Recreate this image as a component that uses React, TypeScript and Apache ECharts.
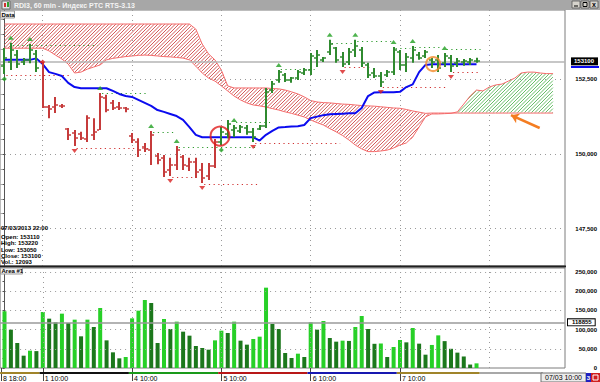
import React, { useEffect, useRef } from "react";
import * as echarts from "echarts";

// ---------- data ----------
const opens = [
  152940, 153080, 153310, 153080, 153150, 153350, 153080, 151570, 151570, 151620,
  150840, 150700, 150670, 150500, 150640, 150800, 151870, 151710, 151570, 151540,
  150600, 150400, 150230, 150130, 149930, 149870, 149460, 149630, 149900, 149600,
  149730, 149460, 149260, 149600, 150400, 150670, 150800, 150770, 150870, 150740,
  150840, 150940, 152140, 152480, 152640, 152480, 152540, 152710, 152810, 153210,
  153150, 153410, 153550, 153250, 153080, 153480, 153480, 152980, 152710, 152610,
  152640, 152740, 153410, 152980, 153210, 153310, 153280, 153150, 153150, 153050,
  153210, 153050, 153080, 153080, 153110,
];
const highs = [
  153550, 153720, 153480, 153210, 153680, 153480, 153080, 151640, 151910, 151670,
  150870, 150800, 150740, 151300, 151200, 152040, 151980, 151810, 151740, 151570,
  150700, 150530, 150370, 150770, 150030, 149970, 149870, 150270, 149970, 149870,
  149870, 149700, 149700, 150500, 150900, 151140, 150970, 150970, 150970, 150870,
  150970, 152210, 152440, 152810, 152710, 152580, 152810, 152880, 153380, 153480,
  153250, 153820, 153580, 153410, 153550, 153820, 153580, 153050, 152880, 152740,
  152810, 153580, 153480, 153380, 153610, 153410, 153480, 153210, 153310, 153380,
  153310, 153210, 153180, 153210, 153220,
];
const lows = [
  152680, 152810, 152880, 152980, 153040, 152740, 151540, 151200, 151370, 151540,
  150470, 150270, 150470, 150400, 150470, 150800, 151400, 151470, 151470, 151400,
  150370, 149900, 150070, 149630, 149660, 149230, 149260, 149460, 149460, 149430,
  149200, 149030, 149130, 149530, 150300, 150530, 150570, 150700, 150640, 150400,
  150800, 150870, 152040, 152380, 152410, 152380, 152480, 152640, 152640, 152910,
  153080, 153310, 153050, 152910, 152980, 153250, 152910, 152540, 152540, 152240,
  152580, 152640, 152810, 152740, 153050, 153150, 153210, 152880, 152740, 152910,
  152740, 152910, 152950, 152980, 153050,
];
const closes = [
  153210, 153480, 153010, 153150, 153480, 152880, 151570, 151500, 151640, 151600,
  150640, 150530, 150530, 151200, 150740, 151910, 151470, 151540, 151540, 151510,
  150470, 150130, 150170, 150640, 149800, 149400, 149630, 150130, 149630, 149730,
  149400, 149200, 149600, 150400, 150740, 151000, 150870, 150900, 150740, 150570,
  150940, 152080, 152340, 152740, 152480, 152540, 152740, 152810, 153280, 153310,
  153210, 153680, 153150, 153010, 153410, 153620, 153050, 152640, 152610, 152410,
  152740, 153480, 152980, 153250, 153480, 153210, 153410, 153080, 152880, 153280,
  152940, 153110, 153110, 153150, 153100,
];
const volumes = [
  147600, 99800, 65100, 32100, 45100, 44000, 145800, 128500, 118900, 141500,
  117200, 125900, 82500, 125900, 106800, 156200, 72000, 40800, 25200, 28600,
  129300, 149300, 177100, 169300, 65100, 127600, 101600, 120700, 94600, 84200,
  57300, 52100, 47700, 72000, 97200, 91100, 120700, 71200, 60800, 75500,
  81600, 209200, 114600, 101600, 39100, 26000, 37300, 28600, 118900, 99800,
  122400, 78100, 68600, 71200, 70500, 106800, 135400, 101600, 63000, 63800,
  28600, 54700, 72900, 66800, 104200, 63400, 34700, 60000, 85000, 70000,
  50000, 40000, 30000, 9000, 12093,
];
const kijun = [
  153150, 153150, 153150, 153150, 153150, 153200, 153010, 152740, 152680, 152610,
  152380, 152240, 152200, 152200, 152200, 152200, 152200, 152110, 152010, 151940,
  151910, 151810, 151710, 151610, 151470, 151410, 151340, 151270, 151140, 150900,
  150640, 150560, 150560, 150560, 150560, 150560, 150560, 150560, 150560, 150560,
  150450, 150640, 150770, 150890, 150900, 150920, 150930, 150970, 151200, 151250,
  151300, 151330, 151340, 151350, 151360, 151360, 151540, 151940, 152060, 152070,
  152070, 152070, 152080, 152240, 152330, 152740, 152980, 153000, 153000, 153000,
  153000, 153000, 153000, 153000, 153000,
];
const senkouA = [
  153540, 153540, 153540, 153540, 153540, 153540, 153540, 153450, 153310, 153180,
  153010, 152710, 152740, 152840, 152910, 152980, 153150, 153200, 153230, 153260,
  153280, 153300, 153310, 153300, 153280, 153260, 153250, 153230, 153210, 153150,
  152940, 152710, 152540, 152440, 152280, 152110, 151940, 151810, 151710, 151640,
  151610, 151570, 151520, 151470, 151410, 151360, 151300, 151240, 151140, 151050,
  150970, 150850, 150740, 150620, 150470, 150300, 150170, 150080, 150080, 150100,
  150130, 150200, 150300, 150370, 150570, 150900, 151240, 151340, 151340, 151350,
  151360, 151410, 151670, 151940, 152140, 152110, 152240, 152310, 152340, 152440,
  152540, 152710, 152740, 152740, 152710, 152690, 152690,
];
const senkouB = [
  154350, 154350, 154350, 154350, 154350, 154350, 154350, 154350, 154350, 154350,
  154350, 154350, 154350, 154350, 154350, 154350, 154350, 154350, 154350, 154350,
  154350, 154350, 154350, 154350, 154350, 154350, 154350, 154350, 154350, 154350,
  154180, 153680, 153350, 153150, 152810, 152280, 152210, 152210, 152210, 152210,
  152210, 152210, 152190, 152180, 152140, 152080, 152010, 151910, 151790, 151740,
  151720, 151710, 151690, 151670, 151660, 151640, 151620, 151610, 151600, 151580,
  151560, 151540, 151530, 151490, 151440, 151400, 151360, 151370, 151370, 151370,
  151370, 151370, 151370, 151370, 151370, 151370, 151370, 151370, 151370, 151370,
  151370, 151370, 151370, 151370, 151370, 151370, 151370,
];
// bars drawn in the "down" colour (first, last index)
const downTrendRange = [6, 33];
// fractal marks
const highMarks = [1, 4, 15, 23, 27, 36, 43, 51, 55, 61, 64, 69];
const lowMarks = [11, 26, 31, 39, 53, 59, 70];
const upSignals = [0, 34];
const downSignals = [6];
// dotted levels: [fromIndex, toIndex, price]
const highLevels = [
  [1, 14, 153650], [15, 22, 152050], [23, 26, 150740], [27, 39, 150250], [36, 41, 151070],
  [43, 48, 152840], [51, 54, 153720], [55, 60, 153790], [61, 63, 153540], [64, 68, 153590], [69, 74, 153510],
];
const lowLevels = [
  [0, 10, 152640], [11, 22, 150190], [26, 30, 149240], [31, 39, 149000], [39, 52, 150380],
  [53, 57, 152910], [59, 69, 152230], [70, 74, 152760],
];
const lastClose = 153100;
const volumeLevel = 118855;
const lastVolume = 12093;
const redCircleAt = [33.8, 150600];
const orangeCircleAt = [67.2, 153010];
const arrowFrom = [83.9, 150870];
const arrowTo = [79.4, 151300];

const xLabelIdx = [-0.55, 6, 20, 34, 48, 62];
const xLabelText = ["8 18:00", "1 10:00", "4 10:00", "5 10:00", "6 10:00", "7 10:00"];
const dayIdx = [6, 20, 34, 48, 62, 76];
const daySegments = [[-0.69, 5.5], [5.5, 19.5], [19.5, 33.5], [33.5, 47.5], [47.5, 61.5], [61.5, 74.5], [74.5, 84.4]];
const priceLabels = [147500, 150000, 152500];
const priceMinorTicks = [146500, 147000, 147500, 148000, 148500, 149000, 149500, 150000, 150500, 151000, 151500, 152000, 152500, 153000, 153500, 154000, 154500];
const volLabels = [0, 50000, 100000, 150000, 200000, 250000];
const volTicks = [0, 25000, 50000, 75000, 100000, 125000, 150000, 175000, 200000, 225000, 250000];
const infoLines = ["07/03/2013 22:00", "Open: 153110", "High: 153220", "Low: 153050", "Close: 153100", "Vol.: 12093"];
const titleText = "RDI3, 60 min - Индекс РТС RTS-3.13";

// ---------- styles ----------
const FONT = "'Liberation Sans', Arial, sans-serif";
const GREEN = "#2f8a2f";
const RED = "#c63b3b";
const VOL_UP = "#27d027";
const VOL_DOWN = "#1c781c";
const HATCH_RED = "#cf4848";
const HATCH_GREEN = "#58b858";
const dayBandColors = ["#a0842a", "#111111", "#1a9a1a", "#b81818", "#1818b0", "#a0842a", "#a8a8a8"];
const X_MIN = -0.69;
const X_MAX = 87.87;
const P_MIN = 146251;
const P_MAX = 154819;
const V_MAX = 260400;

function interp(arr: number[], t: number) {
  const n = arr.length;
  if (t <= 0) return arr[0];
  if (t >= n - 1) return arr[n - 1];
  const i = Math.floor(t);
  const f = t - i;
  return arr[i] + f * (arr[i + 1] - arr[i]);
}

function cloudRender(params: any, api: any) {
  const o = api.coord([0, 150000]);
  const u = api.coord([1, 151000]);
  const px0 = o[0];
  const dx = u[0] - o[0];
  const dy = (u[1] - o[1]) / 1000;
  const toPy = (v: number) => o[1] + (v - 150000) * dy;
  const n = senkouA.length;
  const xEnd = px0 + (n - 1) * dx;
  let yMin = Infinity;
  let yMax = -Infinity;
  for (let i = 0; i < n; i++) {
    yMin = Math.min(yMin, toPy(senkouA[i]), toPy(senkouB[i]));
    yMax = Math.max(yMax, toPy(senkouA[i]), toPy(senkouB[i]));
  }
  const children: any[] = [];
  const sp = 3.5;
  const step = 0.5;
  for (let c = Math.floor((px0 + yMin) / sp) * sp; c <= xEnd + yMax; c += sp) {
    let run: any = null;
    const flush = () => {
      if (run && run.x1 - run.x0 >= 0.5) {
        children.push({
          type: "line",
          shape: { x1: run.x0, y1: c - run.x0, x2: run.x1, y2: c - run.x1 },
          style: { stroke: run.bull ? HATCH_GREEN : HATCH_RED, lineWidth: 0.9 },
        });
      }
      run = null;
    };
    const xa = Math.max(px0, c - yMax - 1);
    const xb = Math.min(xEnd, c - yMin + 1);
    for (let x = xa; x <= xb + 0.001; x += step) {
      const y = c - x;
      const t = (x - px0) / dx;
      const a = toPy(interp(senkouA, t));
      const b = toPy(interp(senkouB, t));
      const inside = y >= Math.min(a, b) && y <= Math.max(a, b);
      const bull = a < b;
      if (inside && run && run.bull === bull) {
        run.x1 = x;
      } else {
        flush();
        if (inside) run = { x0: x, x1: x, bull };
      }
    }
    flush();
  }
  return { type: "group", children };
}

function buildOption() {
  const dotted = { color: "#9a9a9a", width: 1, type: [1, 4] as any };

  const levelSeries = (levels: number[][], color: string) => ({
    type: "custom",
    xAxisIndex: 0,
    yAxisIndex: 0,
    z: 4,
    data: levels.map(([s, e, p]) => [s, p, e]),
    encode: { x: [0, 2], y: 1 },
    renderItem: (params: any, api: any) => {
      const p1 = api.coord([api.value(0), api.value(1)]);
      const p2 = api.coord([api.value(2), api.value(1)]);
      const y = Math.round(p1[1]) + 0.5;
      return {
        type: "line",
        shape: { x1: p1[0] + 2, y1: y, x2: p2[0] + 4, y2: y },
        style: { stroke: color, lineWidth: 1.2, lineDash: [1.2, 3.5] },
      };
    },
  });

  const graphic: any[] = [
    { type: "rect", shape: { x: 0, y: 0, width: 600, height: 10 }, style: { fill: "#a7a7a7" }, z: 100 },
    { type: "rect", shape: { x: 2, y: 1, width: 8, height: 8 }, style: { fill: "#e8e8e8", stroke: "#6a6a6a", lineWidth: 1 }, z: 101 },
    { type: "rect", shape: { x: 4, y: 3, width: 2, height: 4 }, style: { fill: "#d03030" }, z: 102 },
    { type: "rect", shape: { x: 7, y: 2, width: 2, height: 5 }, style: { fill: "#30a030" }, z: 102 },
    { type: "text", x: 14, y: 5, z: 101, style: { text: titleText, fill: "#f4f4f4", font: `bold 7px ${FONT}`, verticalAlign: "middle" } },
    ...[0, 1, 2].map((k) => ({
      type: "rect", z: 101,
      shape: { x: 572 + k * 9, y: 1, width: 8, height: 7 },
      style: { fill: "#d6d3cc", stroke: "#555", lineWidth: 0.8 },
    })),
    { type: "rect", z: 102, shape: { x: 574, y: 5.5, width: 4, height: 1 }, style: { fill: "#000" } },
    { type: "rect", z: 102, shape: { x: 583, y: 2.5, width: 4, height: 4 }, style: { fill: "none", stroke: "#000", lineWidth: 1 } },
    { type: "text", z: 102, x: 594, y: 4.8, style: { text: "x", fill: "#000", font: `bold 7px ${FONT}`, align: "center", verticalAlign: "middle" } },
    { type: "rect", z: 50, shape: { x: 0.5, y: 11, width: 14, height: 7 }, style: { fill: "#f4f4f4", stroke: "#9a9a9a", lineWidth: 1 } },
    { type: "text", z: 51, x: 1.5, y: 14.7, style: { text: "Data", fill: "#000", font: `bold 6px ${FONT}`, verticalAlign: "middle" } },
    { type: "rect", z: 50, shape: { x: 0, y: 265.5, width: 566, height: 2 }, style: { fill: "#202020" } },
    { type: "rect", z: 50, shape: { x: 0.5, y: 268, width: 22, height: 6 }, style: { fill: "#f4f4f4", stroke: "#9a9a9a", lineWidth: 1 } },
    { type: "text", z: 51, x: 1.5, y: 271.2, style: { text: "Area #1", fill: "#000", font: `bold 6px ${FONT}`, verticalAlign: "middle" } },
    ...infoLines.map((t, k) => ({
      type: "text", z: 51, x: 1, y: k === 0 ? 227.8 : 236.8 + (k - 1) * 6.4,
      style: { text: t, fill: "#000", font: `bold 6px ${FONT}`, verticalAlign: "middle" },
    })),
    { type: "rect", z: 60, shape: { x: 571, y: 66, width: 28, height: 2 }, style: { fill: "#0a0af0" } },
    { type: "rect", z: 60, shape: { x: 541, y: 373, width: 45, height: 9 }, style: { fill: "#ececec", stroke: "#707070", lineWidth: 1 } },
    { type: "text", z: 61, x: 563.5, y: 377.8, style: { text: "07/03 10:00", fill: "#000", font: `7px ${FONT}`, align: "center", verticalAlign: "middle" } },
    { type: "rect", z: 60, shape: { x: 586, y: 373, width: 5, height: 9 }, style: { fill: "#2020c0" } },
    { type: "text", z: 61, x: 588.5, y: 377.8, style: { text: "3", fill: "#fff", font: `bold 6px ${FONT}`, align: "center", verticalAlign: "middle" } },
    { type: "rect", z: 60, shape: { x: 591, y: 373, width: 9, height: 9 }, style: { fill: "#d02020" } },
    { type: "rect", z: 61, shape: { x: 593, y: 375, width: 5, height: 5 }, style: { fill: "none", stroke: "#fff", lineWidth: 1 } },
  ];

  return {
    animation: false,
    backgroundColor: "#ffffff",
    grid: [
      { left: 0, top: 10, width: 565, height: 256, show: true, borderColor: "#7d7d7d", borderWidth: 1, backgroundColor: "#fff" },
      { left: 0, top: 268, width: 565, height: 100, show: true, borderColor: "#7d7d7d", borderWidth: 1, backgroundColor: "#fff" },
    ],
    xAxis: [
      {
        type: "value", gridIndex: 0, min: X_MIN, max: X_MAX,
        axisLine: { show: false }, axisTick: { show: false }, axisLabel: { show: false }, splitLine: { show: false },
      },
      {
        type: "value", gridIndex: 1, min: X_MIN, max: X_MAX, position: "bottom",
        axisLine: { show: false },
        axisTick: { show: true, customValues: xLabelIdx, length: 13, lineStyle: { color: "#444" } },
        axisLabel: {
          customValues: xLabelIdx,
          formatter: (v: number) => {
            let best = 0;
            xLabelIdx.forEach((x, k) => { if (Math.abs(x - v) < Math.abs(xLabelIdx[best] - v)) best = k; });
            return xLabelText[best];
          },
          align: "left", padding: [0, 0, 0, 2], margin: 7, fontSize: 7, color: "#000", fontFamily: FONT,
        },
        splitLine: { show: false },
      },
    ],
    yAxis: [
      {
        type: "value", gridIndex: 0, position: "right", offset: 5, min: P_MIN, max: P_MAX,
        axisLine: { show: true, lineStyle: { color: "#555" } },
        axisTick: { show: true, customValues: priceMinorTicks, inside: true, length: 2, lineStyle: { color: "#555" } },
        axisLabel: { customValues: priceLabels, align: "right", margin: 27, fontSize: 6, fontWeight: "bold", color: "#000", fontFamily: FONT },
        splitLine: { show: false },
      },
      {
        type: "value", gridIndex: 1, position: "right", offset: 5, min: 0, max: V_MAX,
        axisLine: { show: true, lineStyle: { color: "#555" } },
        axisTick: { show: true, customValues: volTicks, inside: true, length: 2, lineStyle: { color: "#555" } },
        axisLabel: { customValues: volLabels, align: "right", margin: 27, fontSize: 6, fontWeight: "bold", color: "#000", fontFamily: FONT },
        splitLine: { show: false },
      },
      {
        type: "value", gridIndex: 0, position: "left", min: P_MIN, max: P_MAX,
        axisLine: { show: false },
        axisTick: { show: true, customValues: priceMinorTicks, inside: true, length: 2, lineStyle: { color: "#aaa" } },
        axisLabel: { show: false }, splitLine: { show: false },
      },
    ],
    graphic,
    series: [
      {
        type: "custom", name: "cloud", xAxisIndex: 0, yAxisIndex: 0, z: 1, clip: true,
        data: [[0, 150000]],
        renderItem: cloudRender,
      },
      {
        type: "line", name: "Senkou A", xAxisIndex: 0, yAxisIndex: 0, z: 3, showSymbol: false, symbol: "none",
        data: senkouA.map((v, i) => [i, v]),
        lineStyle: { color: "#f46a6a", width: 1 },
      },
      {
        type: "line", name: "Senkou B", xAxisIndex: 0, yAxisIndex: 0, z: 3, showSymbol: false, symbol: "none",
        data: senkouB.map((v, i) => [i, v]),
        lineStyle: { color: "#f46a6a", width: 1 },
        markLine: {
          silent: true, symbol: ["none", "none"], label: { show: false },
          lineStyle: dotted,
          data: [
            ...priceLabels.map((p) => ({ yAxis: p })),
            ...dayIdx.map((d) => ({ xAxis: d })),
          ],
        },
      },
      levelSeries(highLevels, "#2c9a2c"),
      levelSeries(lowLevels, "#d03030"),
      {
        type: "line", name: "Kijun", xAxisIndex: 0, yAxisIndex: 0, z: 5, showSymbol: false, symbol: "none",
        data: kijun.map((v, i) => [i, v]),
        lineStyle: { color: "#0b0bef", width: 2 },
        markLine: {
          silent: true, symbol: ["none", "none"],
          lineStyle: { color: "#b4b4b4", width: 1.5, type: "solid" },
          label: {
            show: true, position: "end", distance: 6, formatter: String(lastClose),
            backgroundColor: "#000", color: "#fff", fontSize: 6, fontWeight: "bold", fontFamily: FONT, padding: [1, 4, 1, 3],
          },
          data: [{ yAxis: lastClose }],
        },
      },
      {
        type: "custom", name: "OHLC", xAxisIndex: 0, yAxisIndex: 0, z: 6,
        data: opens.map((o, i) => [i, o, highs[i], lows[i], closes[i]]),
        encode: { x: 0, y: [1, 2, 3, 4] },
        renderItem: (params: any, api: any) => {
          const i = api.value(0);
          const pO = api.coord([i, api.value(1)]);
          const pH = api.coord([i, api.value(2)]);
          const pL = api.coord([i, api.value(3)]);
          const pC = api.coord([i, api.value(4)]);
          const x = Math.round(pH[0]);
          const color = i >= downTrendRange[0] && i <= downTrendRange[1] ? RED : GREEN;
          return {
            type: "group",
            children: [
              { type: "rect", shape: { x: x - 1, y: pH[1], width: 2, height: Math.max(1.5, pL[1] - pH[1]) }, style: { fill: color } },
              { type: "rect", shape: { x: x - 3, y: Math.round(pO[1]) - 0.75, width: 2, height: 1.5 }, style: { fill: color } },
              { type: "rect", shape: { x: x + 1, y: Math.round(pC[1]) - 0.75, width: 2, height: 1.5 }, style: { fill: color } },
            ],
          };
        },
      },
      {
        type: "scatter", name: "highMarks", xAxisIndex: 0, yAxisIndex: 0, z: 7,
        data: highMarks.map((i) => [i, highs[i]]),
        symbol: "triangle", symbolSize: [6, 4], symbolOffset: [0, -5],
        itemStyle: { color: "#22a022" },
      },
      {
        type: "scatter", name: "lowMarks", xAxisIndex: 0, yAxisIndex: 0, z: 7,
        data: lowMarks.map((i) => [i, lows[i]]),
        symbol: "triangle", symbolRotate: 180, symbolSize: [6, 4], symbolOffset: [0, 5],
        itemStyle: { color: "#d82020" },
      },
      {
        type: "scatter", name: "upSignals", xAxisIndex: 0, yAxisIndex: 0, z: 7,
        data: upSignals.map((i) => [i, lows[i]]),
        symbol: "diamond", symbolSize: 5, symbolOffset: [0, 5],
        itemStyle: { color: "#22a022" },
      },
      {
        type: "scatter", name: "downSignals", xAxisIndex: 0, yAxisIndex: 0, z: 7,
        data: downSignals.map((i) => [i, highs[i]]),
        symbol: "diamond", symbolSize: 5, symbolOffset: [0, 0],
        itemStyle: { color: "#e02020" },
      },
      {
        type: "scatter", name: "notes", xAxisIndex: 0, yAxisIndex: 0, z: 8,
        data: [
          { value: redCircleAt, symbolSize: 19, itemStyle: { borderColor: "#e01a1a" } },
          { value: orangeCircleAt, symbolSize: 14, itemStyle: { borderColor: "#f3892a" } },
        ],
        symbol: "circle",
        itemStyle: { color: "rgba(0,0,0,0)", borderWidth: 2 },
        markLine: {
          silent: true, symbol: ["none", "arrow"], symbolSize: 8,
          lineStyle: { color: "#f47d22", width: 2.5, type: "solid" },
          label: { show: false },
          data: [[{ coord: arrowFrom }, { coord: arrowTo }]],
        },
      },
      {
        type: "bar", name: "Volume", xAxisIndex: 1, yAxisIndex: 1, barWidth: 4, z: 3,
        data: volumes.map((v, i) => ({ value: [i, v], itemStyle: { color: i === 0 || v > volumes[i - 1] ? VOL_UP : VOL_DOWN } })),
        markLine: {
          silent: true, symbol: ["none", "none"],
          data: [
            ...volLabels.filter((v) => v > 0).map((v) => ({ yAxis: v, lineStyle: dotted, label: { show: false } })),
            ...dayIdx.map((d) => ({ xAxis: d, lineStyle: dotted, label: { show: false } })),
            {
              yAxis: volumeLevel,
              lineStyle: { color: "#9a9a9a", width: 1.5, type: "solid" },
              label: {
                show: true, position: "end", distance: 3, formatter: String(volumeLevel),
                backgroundColor: "#fff", borderColor: "#000", borderWidth: 1, color: "#000",
                fontSize: 6, fontWeight: "bold", fontFamily: FONT, padding: [0, 3, 0, 4],
              },
            },
            {
              yAxis: lastVolume,
              lineStyle: { opacity: 0 },
              label: {
                show: true, position: "end", distance: 4, formatter: String(lastVolume),
                backgroundColor: "#22cc22", color: "#000", fontSize: 6, fontWeight: "bold", fontFamily: FONT, padding: [0, 2, 0, 10],
              },
            },
          ],
        },
      },
      {
        type: "custom", name: "days", xAxisIndex: 1, yAxisIndex: 1, clip: false, z: 4,
        data: daySegments.map(([s, e]) => [s, 0, e]),
        renderItem: (params: any, api: any) => {
          const p1 = api.coord([api.value(0), 0]);
          const p2 = api.coord([api.value(2), 0]);
          return {
            type: "rect",
            shape: { x: p1[0], y: p1[1] + 4, width: p2[0] - p1[0], height: 2 },
            style: { fill: dayBandColors[params.dataIndex] },
          };
        },
      },
    ],
  };
}

export default function App() {
  const ref = useRef<HTMLDivElement>(null);
  useEffect(() => {
    if (!ref.current) return;
    const chart = echarts.init(ref.current, undefined, { renderer: "svg" });
    chart.setOption(buildOption() as any);
    return () => chart.dispose();
  }, []);
  return (
    <div
      ref={ref}
      style={{ position: "fixed", left: 0, top: 0, width: 600, height: 382, background: "#fff" }}
    />
  );
}
